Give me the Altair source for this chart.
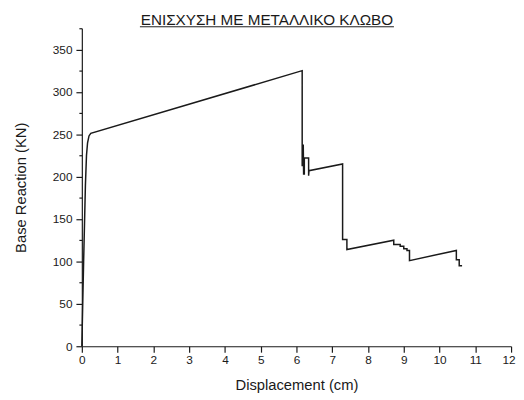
import altair as alt
import pandas as pd

# Displacement (cm) and base reaction (KN)
disp = [0.0, 0.05, 0.10, 0.13, 0.16, 0.20, 0.25,
        6.16, 6.16, 6.19, 6.19, 6.20, 6.22, 6.22, 6.34, 6.34, 6.35,
        7.29, 7.29, 7.41, 7.41,
        8.72, 8.72, 8.90, 8.90, 9.00, 9.00, 9.09, 9.09, 9.16, 9.16,
        10.47, 10.47, 10.55, 10.55, 10.63]
force = [0, 100, 190, 225, 240, 248, 251,
         325, 213, 213, 238, 203, 203, 222, 222, 201, 207,
         215, 126, 126, 114,
         125, 120, 120, 118, 118, 115, 115, 113, 113, 101,
         113, 102, 102, 95, 95]

title_text = ["ΕΝΙΣΧΥΣΗ ΜΕ ΜΕΤΑΛΛΙΚΟ ΚΛΩΒΟ"]
x_ticks = [i * 0.5 for i in range(0, 25)]
y_ticks = [i * 25 for i in range(0, 16)]

FONT = "Liberation Sans"

df = pd.DataFrame({"d": disp, "f": force, "i": range(len(disp))})

line = alt.Chart(df).mark_line(color="#1a1a1a", strokeWidth=1.5).encode(
    x=alt.X("d:Q", scale=alt.Scale(domain=[0, 12], nice=False, zero=False),
            axis=alt.Axis(values=x_ticks, title="Displacement (cm)",
                          format="d", labelFlush=False, labelOverlap=False,
                          labelExpr="datum.value % 1 === 0 ? datum.label : ''",
                          labelAlign={"expr": "datum.value === 12 ? 'right' : 'center'"},
                          labelOffset={"expr": "datum.value === 12 ? 4 : 0"},
                          tickSize={"expr": "datum.value % 1 === 0 ? 6 : 3"},
                          labelPadding=3, titleX=218, titleY=44,
                          titleBaseline="alphabetic", titleAlign="center")),
    y=alt.Y("f:Q", scale=alt.Scale(domain=[0, 375], nice=False),
            axis=alt.Axis(values=y_ticks, title="Base Reaction (KN)",
                          format="d", labelFlush=False, labelOverlap=False,
                          labelExpr="datum.value % 50 === 0 ? datum.label : ''",
                          tickSize={"expr": "datum.value % 50 === 0 ? 6 : 3"},
                          labelPadding=4, titleX=-62, titleY=161.5,
                          titleAngle=-90, titleBaseline="middle",
                          titleAlign="center")),
    order=alt.Order("i:Q"),
)

tdf = pd.DataFrame({"t": title_text})
title = alt.Chart(tdf).mark_text(
    font=FONT, fontSize=15.5, color="#1a1a1a", align="center",
    baseline="alphabetic").encode(
    text="t:N", x=alt.value(188), y=alt.value(-3.5))

underline = alt.Chart(tdf).mark_rule(color="#1a1a1a", strokeWidth=1).encode(
    x=alt.value(59), x2=alt.value(317), y=alt.value(-1.5))

chart = alt.layer(line, title, underline).properties(
    width=436, height=323,
    autosize=alt.AutoSizeParams(type="none"),
    padding={"left": 75, "top": 17.5, "right": 5, "bottom": 50},
).configure_view(stroke=None).configure_axis(
    grid=False, domainColor="#1a1a1a", domainWidth=1.2,
    tickColor="#1a1a1a", tickWidth=1.2,
    labelFont=FONT, labelFontSize=12, labelColor="#1a1a1a",
    titleFont=FONT, titleFontSize=15, titleColor="#1a1a1a",
    titleFontWeight="normal",
)

chart.save("out.html", embed_options={"renderer": "svg", "actions": False})
